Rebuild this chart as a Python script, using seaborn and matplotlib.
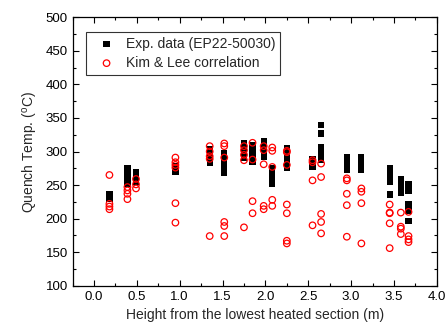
import numpy as np
import pandas as pd
import matplotlib
matplotlib.use("Agg")
import matplotlib.pyplot as plt
import seaborn as sns
from matplotlib.ticker import MultipleLocator

# heights (m) of the measuring positions
heights = [0.18, 0.39, 0.49, 0.95, 1.35, 1.52, 1.75, 1.85, 1.98, 2.08,
           2.25, 2.55, 2.65, 2.95, 3.12, 3.45, 3.58, 3.67]

# experimental quench temps (EP22-50030), one list per height
exp_temps = [
    [229, 233, 237],
    [252, 257, 262, 267, 272, 276],
    [254, 259, 264, 269],
    [270, 274, 278],
    [283, 288, 293, 298, 303],
    [268, 273, 278, 283, 288, 294, 297],
    [291, 296, 301, 306, 310, 313],
    [285, 290, 295, 300, 305, 309],
    [292, 297, 302, 307, 312, 316],
    [252, 257, 262, 267, 272, 276],
    [275, 280, 285, 290, 295, 300, 305],
    [277, 281, 286, 289],
    [339, 327, 287, 292, 297, 302, 307],
    [273, 277, 281, 285, 289, 292],
    [272, 276, 280, 284, 288, 291],
    [254, 258, 263, 267, 271, 275, 236],
    [239, 244, 249, 254, 259],
    [241, 246, 252, 211, 216, 221, 197],
]

# Kim & Lee correlation values
corr_temps = [
    [265, 222, 218, 214],
    [247, 242, 237, 229],
    [259, 251, 245],
    [291, 284, 280, 276, 223, 194],
    [308, 300, 293, 289, 174],
    [312, 308, 291, 195, 189, 174],
    [308, 302, 295, 287, 187],
    [313, 288, 226, 208],
    [308, 302, 281, 219, 214],
    [306, 301, 277, 228, 219],
    [301, 299, 280, 221, 208, 167, 163],
    [287, 284, 257, 190],
    [282, 262, 207, 195, 178],
    [260, 257, 237, 220, 173],
    [245, 240, 223, 163],
    [221, 209, 208, 193, 156],
    [209, 188, 185, 177],
    [210, 174, 169, 165],
]

exp_df = pd.DataFrame([(h, t) for h, ts in zip(heights, exp_temps) for t in ts],
                      columns=["height", "temp"])
corr_df = pd.DataFrame([(h, t) for h, ts in zip(heights, corr_temps) for t in ts],
                       columns=["height", "temp"])

sns.set_style("ticks")
plt.rcParams["font.family"] = ["Liberation Sans", "DejaVu Sans"]
plt.rcParams["mathtext.default"] = "regular"

fig = plt.figure(figsize=(4.48, 3.33), dpi=100)
ax = fig.add_axes([0.162, 0.142, 0.813, 0.806])

sns.scatterplot(data=exp_df, x="height", y="temp", ax=ax, marker="s", s=20,
                color="black", edgecolor="none", label="Exp. data (EP22-50030)")
sns.scatterplot(data=corr_df, x="height", y="temp", ax=ax, marker="o", s=22,
                facecolors="none", edgecolor="red", linewidth=0.9,
                label="Kim & Lee correlation")

ax.set_xlim(-0.25, 4.0)
ax.set_ylim(100, 500)
ax.xaxis.set_minor_locator(MultipleLocator(0.25))
ax.yaxis.set_major_locator(MultipleLocator(50))
ax.yaxis.set_minor_locator(MultipleLocator(25))
ax.set_xticks(np.arange(0, 4.01, 0.5))
ax.set_xticklabels([f"{v:.1f}" for v in np.arange(0, 4.01, 0.5)])
ax.tick_params(which="both", direction="in", top=True, right=True,
               labelsize=9.5, width=0.8, colors="black")
ax.tick_params(which="major", length=4)
ax.tick_params(which="minor", length=2.5)
for sp in ax.spines.values():
    sp.set_linewidth(0.9)
    sp.set_color("black")

ax.set_xlabel("Height from the lowest heated section (m)", fontsize=10)
ax.set_ylabel("Quench Temp. ($^o$C)", fontsize=10)

leg = ax.legend(loc="upper left", fontsize=10, frameon=True, fancybox=False,
                edgecolor="black", borderpad=0.35, handletextpad=0.3,
                labelspacing=0.35, handlelength=2.2, borderaxespad=0,
                bbox_to_anchor=(0.038, 0.945))
leg.get_frame().set_linewidth(0.8)

fig.savefig("out.png", dpi=100)
